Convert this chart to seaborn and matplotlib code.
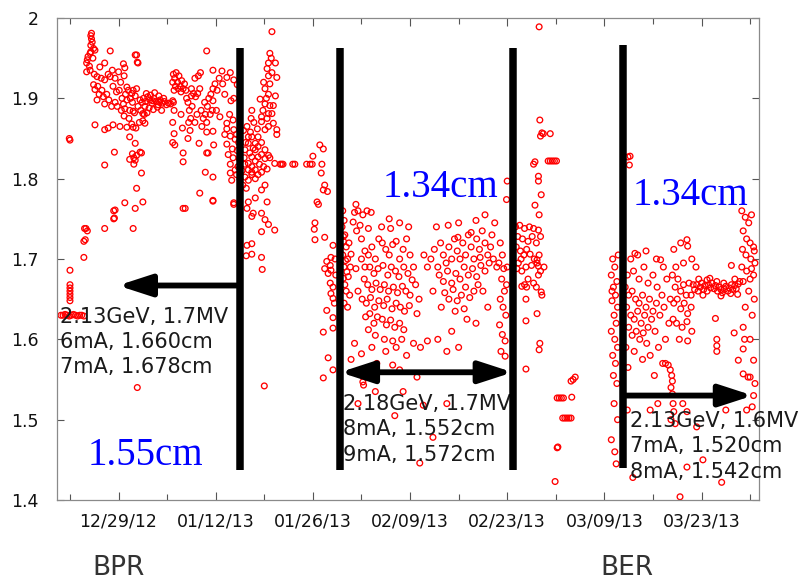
import numpy as np
import pandas as pd
import matplotlib
matplotlib.use("Agg")
import matplotlib.pyplot as plt
import matplotlib.dates as mdates
import seaborn as sns

# ---------------- data (day offset from 2012-12-22, value) ----------------
BASE = pd.Timestamp("2012-12-22")

bpr_early = [(-0.1,1.850),(0.0,1.848),
    (-1.3,1.630),(-1.0,1.630),(-0.7,1.631),(-0.4,1.630),(-0.1,1.629),(0.2,1.630),(0.5,1.631),
    (0.8,1.630),(1.1,1.629),(1.4,1.630),(1.7,1.630),(2.0,1.629),
    (0.0,1.686),(0.0,1.668),(0.0,1.664),(0.0,1.660),(0.0,1.656),(0.0,1.652),(0.0,1.648),
    (2.0,1.702),(2.0,1.722),(2.1,1.738),(2.5,1.735),(2.3,1.738),(2.2,1.724),(5.0,1.738),
    (6.3,1.750),(6.3,1.760),(7.9,1.770),(9.1,1.738),(9.4,1.763),(10.5,1.771),(16.3,1.763),
    (16.6,1.763),(20.6,1.772),(23.6,1.768),(9.7,1.540),(9.6,1.788),(10.3,1.807),(5.0,1.817)]

bpr_top = [(2.4,1.944),(2.5,1.948),(2.6,1.952),(2.9,1.956),(3.0,1.958),(3.0,1.966),(3.2,1.970),
    (3.1,1.974),(3.0,1.978),(3.1,1.981),(3.4,1.962),(3.6,1.960),(3.3,1.950),(2.8,1.940)]

bpr_band = [(2.4,1.933),(2.9,1.935),(3.4,1.917),(3.6,1.911),(3.9,1.927),(3.9,1.898),(3.6,1.867),
    (4.3,1.939),(4.8,1.902),(5.0,1.944),(5.0,1.923),(5.0,1.893),(5.0,1.861),(5.5,1.863),(5.8,1.927),
    (5.8,1.959),(6.1,1.935),(6.2,1.915),(6.2,1.867),(6.4,1.833),(6.5,1.895),(6.7,1.908),(7.0,1.933),
    (7.1,1.910),(7.2,1.865),(7.4,1.885),(7.7,1.943),(7.7,1.893),(7.8,1.928),(7.9,1.938),(7.9,1.887),
    (8.2,1.914),(8.2,1.898),(8.2,1.864),(8.4,1.910),(8.6,1.885),(8.6,1.852),(8.7,1.900),(8.9,1.906),
    (8.9,1.868),(9.1,1.910),(9.1,1.884),(9.1,1.864),(9.3,1.882),(9.4,1.903),(9.4,1.954),(9.5,1.863),
    (9.6,1.912),(9.6,1.954),(9.7,1.945),(9.8,1.944),(4.5,1.925),(4.0,1.915),(4.6,1.910),(5.3,1.905),
    (5.6,1.898),(6.0,1.890),(6.8,1.890),(7.5,1.900),(3.5,1.930),(4.2,1.905),(5.5,1.930),(6.5,1.925),
    (7.3,1.920),(8.0,1.905),(9.0,1.895),(9.8,1.890),(10.1,1.898),(8.5,1.875),(7.8,1.878),(10.2,1.885),
    (10.0,1.870),(9.0,1.831),(9.2,1.826),(9.4,1.823),(9.6,1.829),(10.1,1.833),(10.3,1.832),(9.2,1.818),
    (8.6,1.824),(9.4,1.844),(10.8,1.869),(10.5,1.881),(6.5,1.761),(6.4,1.751)]

bpr_flat = [(10.6,1.900),(10.9,1.896),(11.2,1.902),(11.5,1.898),(11.8,1.894),(12.1,1.900),(12.4,1.896),
    (12.7,1.892),(13.0,1.898),(13.3,1.894),(13.6,1.896),(13.9,1.892),(14.2,1.894),(11.0,1.906),
    (11.6,1.904),(12.2,1.907),(12.8,1.903),(10.8,1.890),(11.4,1.888),(12.0,1.886),(12.6,1.889),
    (13.2,1.885),(10.7,1.880),(10.5,1.872),(14.5,1.893),(14.8,1.897),(10.4,1.895),(11.1,1.882),
    (13.5,1.900),(12.9,1.895),(11.9,1.897)]

bpr_late = [(14.9,1.930),(15.1,1.925),(15.3,1.932),(15.5,1.920),(15.7,1.928),(15.9,1.915),(16.1,1.922),
    (16.3,1.912),(16.5,1.918),(16.7,1.910),(15.2,1.915),(15.6,1.912),(16.0,1.908),(15.0,1.910),(14.8,1.920),
    (14.9,1.895),(15.0,1.885),(14.8,1.870),(15.0,1.856),(14.8,1.845),(15.1,1.842),(16.3,1.832),(16.3,1.821),
    (16.2,1.863),(16.0,1.880),(16.8,1.900),(17.0,1.895),(17.2,1.885),(17.4,1.875),(17.1,1.870),(17.5,1.903),
    (17.8,1.906),(18.1,1.902),(18.4,1.906),(18.7,1.912),(18.0,1.925),(18.5,1.928),(18.8,1.932),(17.6,1.890),
    (18.3,1.880),(18.9,1.885),(19.2,1.875),(17.3,1.860),(17.0,1.850),(19.0,1.865),(19.5,1.880),(19.8,1.890),
    (20.0,1.900),(20.3,1.905),(20.6,1.912),(20.9,1.918),(19.4,1.895),(19.7,1.870),(20.2,1.880),(20.5,1.885),
    (18.6,1.844),(19.7,1.858),(20.6,1.859),(19.9,1.832),(19.5,1.808),(20.6,1.802),(18.7,1.782),(20.6,1.773),
    (17.5,1.912),(18.0,1.870),(19.7,1.959),(20.7,1.842),(19.7,1.832),
    (21.2,1.910),(22.0,1.918),(22.6,1.926),(23.1,1.932),(21.9,1.934),(23.6,1.923),(24.1,1.917),(22.3,1.905),
    (23.2,1.897),(23.6,1.900),(20.6,1.897),(21.1,1.885),(21.6,1.877),(23.0,1.880),(23.5,1.873),(22.6,1.869),
    (23.6,1.861),(23.1,1.853),(23.8,1.849),(22.6,1.843),(23.4,1.837),(22.8,1.830),(23.5,1.826),(23.1,1.818),
    (23.8,1.811),(22.6,1.862),(22.3,1.855),(23.1,1.807),(23.3,1.798),(23.6,1.770),(20.6,1.935),(21.5,1.925)]

gap_pts = [(24.0,1.855),(24.3,1.845),(24.1,1.835),(24.4,1.825),(24.2,1.815),(24.0,1.805),(24.5,1.800),
    (25.2,1.836),(25.7,1.852),(25.7,1.844),(26.2,1.852),(26.2,1.827),(26.7,1.844),(26.7,1.836),(27.1,1.852),
    (27.1,1.840),(27.6,1.845),(28.1,1.836),(25.2,1.818),(25.7,1.819),(26.2,1.815),(26.7,1.822),(27.1,1.827),
    (27.6,1.830),(28.1,1.825),(25.7,1.811),(26.2,1.808),(26.7,1.811),(27.1,1.805),(27.6,1.808),(25.2,1.802),
    (25.7,1.798),(26.2,1.805),(26.7,1.800),(28.6,1.829),(28.8,1.826),(25.0,1.860),(25.5,1.865),(26.0,1.858),
    (26.5,1.870),(27.0,1.862),(25.3,1.845),(25.9,1.832),(26.4,1.838),(27.3,1.818),(27.9,1.815),(28.4,1.812),
    (25.1,1.826),(24.8,1.810),(24.9,1.792),(25.4,1.788),
    (25.4,1.704),(26.2,1.706),(27.7,1.687),(28.0,1.542),
    (28.1,1.792),(27.6,1.786),(26.7,1.776),(25.7,1.771),(28.4,1.771),(25.5,1.763),(27.6,1.757),(26.2,1.753),
    (28.1,1.749),(28.6,1.743),(29.5,1.736),(27.6,1.734),(26.2,1.719),(25.5,1.717),(27.6,1.702),(26.4,1.757),
    (28.8,1.956),(28.6,1.944),(29.6,1.944),(28.4,1.937),(29.1,1.932),(28.6,1.928),(29.8,1.926),(27.9,1.920),
    (28.8,1.918),(28.1,1.912),(29.6,1.903),(28.6,1.905),(27.4,1.899),(28.1,1.893),(28.8,1.891),(29.3,1.891),
    (27.8,1.885),(28.6,1.881),(29.1,1.881),(27.6,1.877),(28.4,1.875),(27.6,1.871),(29.3,1.869),(28.6,1.865),
    (29.8,1.861),(28.1,1.861),(29.8,1.855),(26.2,1.885),(26.1,1.875),(29.1,1.983),(29.0,1.950),(28.3,1.900),
    (29.5,1.819),(30.3,1.818),(30.5,1.818),(30.7,1.818),(32.1,1.818),(32.4,1.818),(34.1,1.818),(34.6,1.818),
    (34.9,1.818),(36.3,1.818),
    (36.0,1.842),(36.5,1.837),(35.0,1.828),(36.2,1.807),(36.7,1.792),(36.5,1.786),(37.1,1.784),(35.6,1.771),
    (35.8,1.768),(35.3,1.745),(35.2,1.737),(35.3,1.724),(36.7,1.727),(37.9,1.717),(37.6,1.702),(37.0,1.697),
    (37.5,1.692),(36.7,1.688),(37.6,1.686),(37.2,1.682),(37.9,1.665),(37.5,1.670),(37.6,1.657),(37.9,1.651),
    (37.0,1.636),(37.9,1.627),(37.9,1.614),(36.5,1.609),(37.2,1.577),(37.9,1.562),(36.5,1.552),(38.2,1.700),
    (38.3,1.680),(38.1,1.645)]

mid_pts = [(39.3,1.760),(39.5,1.748),(39.2,1.740),(39.6,1.730),(39.4,1.722),(39.8,1.715),(39.3,1.705),
    (39.7,1.698),(39.5,1.690),(39.9,1.684),(39.4,1.676),(39.6,1.668),(40.0,1.700),(40.2,1.720),(40.1,1.678),
    (39.8,1.660),(40.3,1.655),(39.5,1.645),(40.0,1.640),(40.4,1.690),(39.4,1.728),(40.5,1.706),
    (41.2,1.768),(41.5,1.760),(41.0,1.758),(42.2,1.755),(42.8,1.760),(43.4,1.758),(41.8,1.742),(43.0,1.738),
    (42.0,1.725),(41.3,1.735),(40.8,1.746),
    (42.0,1.700),(42.5,1.710),(43.0,1.705),(43.5,1.715),(44.0,1.700),(44.5,1.725),(45.0,1.720),(45.5,1.712),
    (46.0,1.705),(46.5,1.718),(47.0,1.722),(47.5,1.700),(48.0,1.712),(48.5,1.725),(49.0,1.705),(49.5,1.690),
    (43.2,1.690),(43.8,1.682),(44.4,1.688),(45.1,1.692),(45.8,1.680),(46.3,1.690),(46.9,1.685),(47.4,1.678),
    (48.1,1.690),(48.7,1.682),(49.3,1.674),(42.4,1.675),(42.9,1.668),(43.5,1.662),(44.1,1.670),(44.7,1.662),
    (45.3,1.668),(45.9,1.660),(46.6,1.665),(47.2,1.658),(47.9,1.666),(48.4,1.660),(49.0,1.655),(42.1,1.650),
    (42.7,1.645),(43.3,1.652),(43.9,1.640),(44.5,1.648),(45.2,1.642),(45.7,1.650),(46.4,1.638),(47.0,1.645),
    (47.6,1.640),(48.2,1.635),(48.9,1.642),(42.6,1.628),(43.2,1.632),(43.8,1.620),(44.3,1.628),(45.0,1.625),
    (45.6,1.618),(46.2,1.624),(46.8,1.615),(47.5,1.620),(48.1,1.612),(44.0,1.605),(45.3,1.600),(46.5,1.598),
    (47.8,1.600),(43.0,1.612),(49.8,1.668),(50.3,1.650),(50.0,1.632),(41.5,1.660),(41.2,1.688),(42.5,1.690),
    (44.9,1.740),(46.2,1.738),(47.5,1.745),(48.8,1.740),(46.0,1.750),
    (42.0,1.582),(43.5,1.590),(45.5,1.585),(47.0,1.590),(48.5,1.580),(49.5,1.595),(44.2,1.570),(46.5,1.568),
    (41.0,1.595),(40.5,1.575),(47.5,1.562),(50.5,1.590),(51.5,1.598),(42.2,1.547),(42.3,1.543),(41.5,1.520),
    (50.9,1.518),(52.3,1.478),(54.3,1.520),(50.4,1.446),(50.0,1.553),(44.0,1.535),(48.0,1.535),(46.8,1.505),
    (52.0,1.700),(52.5,1.712),(53.0,1.690),(53.4,1.720),(53.8,1.705),(54.2,1.695),(54.6,1.715),(55.0,1.700),
    (55.4,1.725),(55.8,1.710),(56.2,1.700),(56.6,1.720),(57.0,1.705),(57.4,1.730),(57.8,1.715),(58.2,1.700),
    (58.6,1.725),(59.0,1.712),(59.4,1.735),(59.8,1.720),(60.2,1.705),(60.6,1.715),(61.0,1.700),(53.2,1.680),
    (53.8,1.672),(54.4,1.685),(55.0,1.670),(55.6,1.682),(56.2,1.675),(56.8,1.690),(57.4,1.680),(58.0,1.688),
    (58.6,1.678),(59.2,1.692),(59.8,1.685),(60.4,1.695),(54.0,1.658),(54.6,1.650),(55.2,1.662),(55.8,1.648),
    (56.4,1.655),(57.0,1.665),(57.6,1.652),(58.2,1.660),(58.8,1.668),(53.5,1.640),(55.5,1.635),(56.8,1.638),
    (59.5,1.660),(52.3,1.660),(51.5,1.690),(51.0,1.705),(52.8,1.740),(54.5,1.742),(56.0,1.745),(58.5,1.748),
    (59.8,1.755),(61.2,1.745),(60.8,1.730),(61.5,1.690),(57.2,1.625),(58.5,1.620),(55.0,1.610),(53.0,1.600),
    (60.2,1.640),(56.0,1.590),(54.3,1.585),(57.8,1.733),(55.9,1.727),(59.1,1.702),
    (62.0,1.720),(62.3,1.705),(61.8,1.695),(62.5,1.688),(62.2,1.675),(62.6,1.660),(62.0,1.650),(62.4,1.640),
    (62.8,1.630),(61.9,1.618),(62.3,1.606),(62.7,1.598),(62.1,1.585),(62.9,1.668),(63.0,1.690),(63.0,1.797),
    (62.9,1.774),(62.7,1.579)]

late_pts = [(64.2,1.740),(64.8,1.742),(65.5,1.738),(66.2,1.740),(66.8,1.738),(67.5,1.736),(67.8,1.728),
    (64.5,1.728),(65.2,1.725),(66.0,1.722),(66.6,1.728),(67.2,1.720),(64.3,1.715),(64.9,1.710),(65.4,1.705),
    (65.0,1.700),(64.6,1.695),(65.8,1.712),(66.3,1.706),(66.9,1.700),(64.4,1.688),(65.1,1.685),(65.7,1.690),
    (66.5,1.692),(67.3,1.695),(67.6,1.705),(66.0,1.675),(66.8,1.670),(65.5,1.668),(67.2,1.665),(68.0,1.655),
    (67.5,1.680),(68.3,1.690),(67.7,1.873),(68.0,1.857),(68.2,1.856),(69.2,1.856),(67.8,1.853),
    (68.9,1.822),(69.2,1.822),(69.5,1.822),(69.8,1.822),(70.1,1.822),(67.0,1.821),(66.8,1.818),
    (67.5,1.803),(67.5,1.797),(67.9,1.780),(67.0,1.767),(67.6,1.755),(67.3,1.699),(67.5,1.691),(67.8,1.685),
    (67.9,1.659),(65.8,1.665),(65.1,1.666),(65.7,1.650),(67.3,1.632),(65.7,1.623),(67.7,1.595),(67.6,1.587),
    (65.7,1.563),(72.8,1.553),(72.5,1.550),(72.2,1.548),(72.3,1.528),
    (70.2,1.527),(70.5,1.527),(70.8,1.527),(71.1,1.527),(71.0,1.502),(71.3,1.502),(71.6,1.502),(71.9,1.502),
    (72.2,1.502),(70.2,1.465),(70.3,1.466),(69.9,1.423),(67.6,1.989)]

ber_pts = [(78.2,1.700),(78.5,1.690),(78.0,1.680),(78.8,1.672),(78.3,1.665),(78.6,1.655),(78.1,1.648),
    (78.9,1.640),(78.4,1.630),(78.7,1.620),(78.0,1.610),(78.5,1.600),(78.9,1.590),(78.2,1.580),(78.6,1.570),
    (78.3,1.555),(78.8,1.545),(78.4,1.520),(78.9,1.500),(78.0,1.475),(78.5,1.460),(78.7,1.445),(79.0,1.705),
    (78.1,1.660),(80.4,1.827),(80.6,1.817),(80.7,1.828),
    (80.0,1.665),(80.5,1.655),(81.0,1.660),(81.5,1.650),(82.0,1.645),(82.5,1.655),(83.0,1.640),(83.5,1.650),
    (84.0,1.635),(84.5,1.645),(85.0,1.630),(80.2,1.640),(80.8,1.630),(81.3,1.625),(81.8,1.635),(82.3,1.620),
    (82.8,1.630),(83.3,1.615),(83.8,1.625),(84.3,1.610),(80.5,1.615),(81.0,1.605),(81.6,1.610),(82.1,1.600),
    (82.6,1.608),(83.1,1.595),(80.3,1.680),(81.2,1.685),(82.0,1.675),(82.7,1.690),(83.3,1.670),(84.0,1.680),
    (84.6,1.665),(85.3,1.655),(80.8,1.700),(81.8,1.705),(83.0,1.710),(84.5,1.700),(85.5,1.690),(86.0,1.675),
    (80.1,1.590),(81.3,1.585),(82.5,1.575),(83.6,1.580),(84.8,1.590),(85.8,1.600),(86.3,1.620),(85.6,1.640),
    (86.5,1.650),(80.4,1.565),(84.2,1.555),(81.4,1.707),(85.1,1.699),
    (86.8,1.680),(87.2,1.665),(87.6,1.675),(88.0,1.660),(88.4,1.668),(88.8,1.655),(89.2,1.670),(87.0,1.645),
    (87.5,1.650),(88.0,1.638),(88.5,1.645),(89.0,1.632),(89.5,1.640),(86.9,1.625),(87.4,1.620),(88.2,1.615),
    (88.9,1.622),(89.6,1.610),(87.8,1.600),(89.0,1.598),(87.3,1.690),(88.4,1.695),(89.6,1.700),(90.2,1.690),
    (87.0,1.712),(88.0,1.720),(88.9,1.724),(89.0,1.716),
    (85.4,1.570),(85.8,1.570),(86.2,1.568),(86.5,1.562),(86.7,1.555),(86.8,1.548),(86.6,1.540),(86.8,1.532),
    (86.9,1.520),(87.0,1.510),(86.6,1.500),(87.2,1.495),
    (90.0,1.662),(90.3,1.668),(90.5,1.660),(90.8,1.665),(91.0,1.670),(91.3,1.662),(91.5,1.667),(91.8,1.660),
    (92.0,1.668),(92.3,1.664),(92.5,1.670),(92.8,1.663),(93.0,1.667),(93.3,1.660),(93.5,1.665),(93.8,1.662),
    (94.0,1.658),(94.3,1.662),(94.5,1.666),(94.8,1.660),(95.0,1.664),(95.3,1.668),(95.5,1.662),(95.8,1.667),
    (96.0,1.663),(96.3,1.669),(96.5,1.672),(91.2,1.655),(92.2,1.676),(93.2,1.672),(94.2,1.670),(95.2,1.657),
    (96.2,1.656),(90.6,1.675),(89.8,1.668),(89.5,1.655),(91.8,1.674),(93.8,1.654),(95.8,1.675),
    (96.8,1.760),(97.3,1.752),(97.8,1.745),(98.2,1.755),(97.0,1.735),(97.5,1.725),(98.0,1.720),(98.5,1.715),
    (96.9,1.712),(97.4,1.705),(98.1,1.700),(98.6,1.710),(96.8,1.690),(97.5,1.685),(98.2,1.688),(98.7,1.695),
    (97.0,1.672),(98.0,1.675),(98.5,1.680),(97.8,1.660),(98.6,1.650),(97.3,1.640),(98.3,1.630),(97.0,1.615),
    (98.0,1.600),(95.3,1.692),(93.0,1.626),(95.7,1.608),(93.2,1.600),(93.2,1.592),(93.2,1.585),(97.2,1.600),
    (97.0,1.588),(96.3,1.574),(98.5,1.574),(97.0,1.557),(98.0,1.553),(98.7,1.545),(98.5,1.530),(94.5,1.512),
    (97.5,1.512),(88.3,1.520),(88.9,1.510),(90.3,1.491),(91.2,1.450),(93.9,1.422),(87.9,1.404),(88.9,1.441),
    (81.1,1.428),(80.3,1.512),(83.6,1.512),(84.7,1.520),(98.3,1.516),(97.7,1.553)]

# vertical dividers, arrows and annotations
divider_days = [24.5, 38.9, 63.8, 79.7]
divider_top = [1.963, 1.963, 1.963, 1.966]
divider_bottom = [1.437, 1.437, 1.437, 1.440]

tick_days_major = [7, 21, 35, 49, 63, 77, 91]
tick_labels = ["12/29/12", "01/12/13", "01/26/13", "02/09/13", "02/23/13", "03/09/13", "03/23/13"]
tick_days_minor = [0, 14, 28, 42, 56, 70, 84, 98]
y_ticks = [1.4, 1.5, 1.6, 1.7, 1.8, 1.9, 2.0]
y_labels = ["1.4", "1.5", "1.6", "1.7", "1.8", "1.9", "2"]

notes_left = ["2.13GeV, 1.7MV", "6mA, 1.660cm", "7mA, 1.678cm"]
notes_mid = ["2.18GeV, 1.7MV", "8mA, 1.552cm", "9mA, 1.572cm"]
notes_right = ["2.13GeV, 1.6MV", "7mA, 1.520cm", "8mA, 1.542cm"]
blue_labels = ["1.55cm", "1.34cm", "1.34cm"]
group_labels = ["BPR", "BER"]


def dn(d):
    return mdates.date2num(BASE + pd.to_timedelta(d, unit="D"))


pts = bpr_early + bpr_top + bpr_band + bpr_flat + bpr_late + gap_pts + mid_pts + late_pts + ber_pts
df = pd.DataFrame(pts, columns=["day", "val"])
df["date"] = BASE + pd.to_timedelta(df["day"], unit="D")

sns.set_style("ticks")
plt.rcParams["font.family"] = ["DejaVu Sans"]

fig = plt.figure(figsize=(8.07, 5.83), dpi=100)
ax = fig.add_axes([57 / 807, 83 / 583, 702 / 807, 482 / 583])

sns.scatterplot(data=df, x="date", y="val", ax=ax, marker="o", s=17, linewidth=0.95,
                color="red", legend=False, zorder=2)
coll = ax.collections[-1]
coll.set_facecolor("none")
coll.set_edgecolor("#ff0000")

ax.set_xlim(dn(-1.87), dn(99.28))
ax.set_ylim(1.4, 2.0)
ax.set_xlabel("")
ax.set_ylabel("")

ax.set_xticks([dn(d) for d in tick_days_major])
ax.set_xticklabels(tick_labels)
ax.set_xticks([dn(d) for d in tick_days_minor], minor=True)
ax.set_yticks(y_ticks)
ax.set_yticklabels(y_labels)
ax.tick_params(axis="both", which="both", direction="in", top=True, right=True,
               color="#555555", labelsize=12.5, labelcolor="#111111", width=0.8)
ax.tick_params(axis="x", which="major", length=6, pad=9)
ax.tick_params(axis="x", which="minor", length=4)
ax.tick_params(axis="y", which="major", length=5, pad=13)
for sp in ax.spines.values():
    sp.set_color("#8a8a8a")
    sp.set_linewidth(0.9)

# dividers
ax.vlines([dn(d) for d in divider_days], divider_bottom, divider_top, colors="black",
          linewidth=5.4, zorder=5)

arrow_kw = dict(color="black", lw=4.2, shrinkA=0, shrinkB=0)
ax.annotate("", xy=(dn(6.9), 1.667), xytext=(dn(24.5), 1.667),
            arrowprops=dict(arrowstyle="-|>,head_length=2.0,head_width=0.65", **arrow_kw), zorder=5)
ax.annotate("", xy=(dn(63.8), 1.559), xytext=(dn(38.9), 1.559),
            arrowprops=dict(arrowstyle="<|-|>,head_length=2.0,head_width=0.65", **arrow_kw), zorder=5)
ax.annotate("", xy=(dn(98.4), 1.530), xytext=(dn(79.7), 1.530),
            arrowprops=dict(arrowstyle="-|>,head_length=2.0,head_width=0.65", **arrow_kw), zorder=5)

txt_kw = dict(fontsize=15, color="#1a1a1a", va="baseline", ha="left", zorder=4)
for s, yv in zip(notes_left, [1.620, 1.589, 1.558]):
    ax.text(dn(-1.44), yv, s, **txt_kw)
for s, yv in zip(notes_mid, [1.512, 1.481, 1.448]):
    ax.text(dn(39.3), yv, s, **txt_kw)
for s, yv in zip(notes_right, [1.491, 1.460, 1.428]):
    ax.text(dn(80.7), yv, s, **txt_kw)

blue_kw = dict(fontsize=28, color="#0000ff", family="Liberation Serif", va="baseline", ha="left", zorder=4)
ax.text(dn(2.6), 1.443, blue_labels[0], **blue_kw)
ax.text(dn(45.1), 1.777, blue_labels[1], **blue_kw)
ax.text(dn(81.1), 1.767, blue_labels[2], **blue_kw)

fig.text(92 / 807, 2 / 583, group_labels[0], fontsize=19, color="#333333", va="bottom", ha="left")
fig.text(600 / 807, 2 / 583, group_labels[1], fontsize=19, color="#333333", va="bottom", ha="left")

fig.savefig("out.png", dpi=100)
